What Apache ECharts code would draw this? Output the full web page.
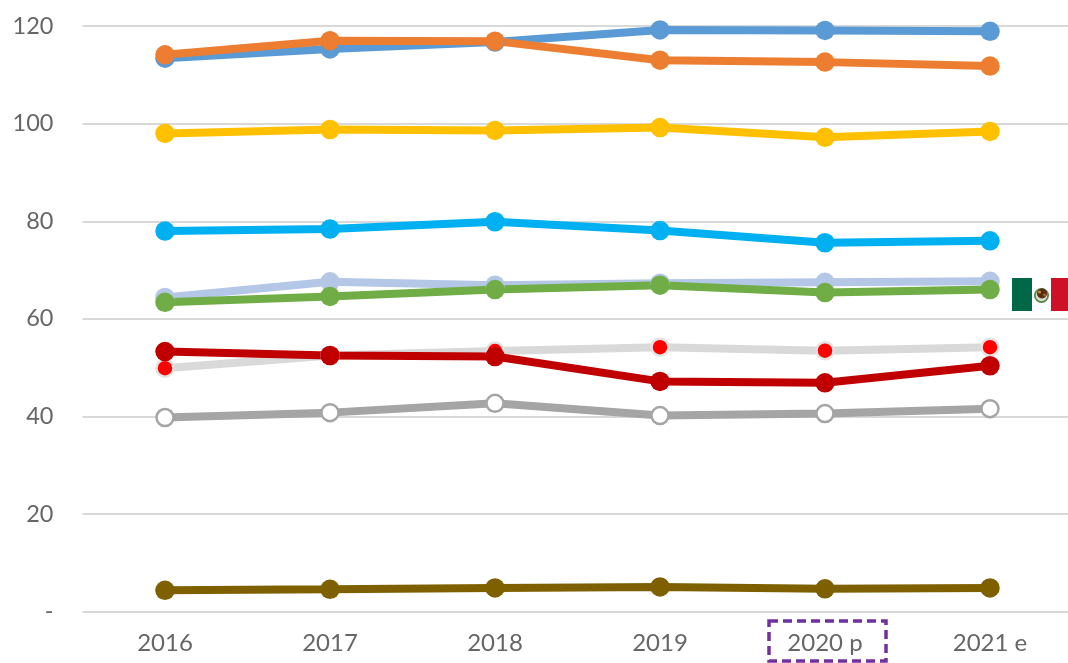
<!DOCTYPE html>
<html><head><meta charset="utf-8">
<style>html,body{margin:0;padding:0;background:#fff;overflow:hidden;width:1068px;height:663px}#c{width:1073px;height:663px}</style>
<script src="https://cdn.jsdelivr.net/npm/echarts@6/dist/echarts.min.js"></script>
</head><body><div id="c"></div>
<script>
const years = ['2016','2017','2018','2019','2020 p','2021 e'];
const steelBlue = [113.4,115.3,116.7,119.2,119.1,118.9];
const orange = [114.1,117.0,116.9,113.0,112.6,111.8];
const yellow = [98.0,98.8,98.6,99.2,97.2,98.4];
const cyan = [78.0,78.4,79.9,78.1,75.6,76.0];
const paleBlue = [64.4,67.6,66.9,67.3,67.5,67.7];
const green = [63.4,64.6,66.0,66.9,65.4,66.0];
const paleGrey = [49.9,52.5,53.4,54.2,53.5,54.2];
const darkRed = [53.3,52.5,52.3,47.2,46.9,50.4];
const grey = [39.8,40.8,42.7,40.2,40.6,41.6];
const brown = [4.4,4.6,4.9,5.1,4.7,4.9];

const font = 'Lato, "Open Sans", sans-serif';
function s(data, color, fill, border){
  return {type:'line',data,symbol:'circle',symbolSize:fill?17:19.5,showSymbol:true,clip:false,
    lineStyle:{color,width:8,cap:'butt'},
    itemStyle:{color:fill||color,borderColor:border||color,borderWidth:fill?2.5:0,opacity:1},
    emphasis:{disabled:true},animation:false};
}
const chart = echarts.init(document.getElementById('c'),null,{renderer:'canvas'});
chart.setOption({
  animation:false,backgroundColor:'#fff',
  grid:{left:82.5,right:0.5,top:26,bottom:51.2,containLabel:false},
  xAxis:{type:'category',data:years,boundaryGap:true,
    axisLine:{show:false},
    axisTick:{show:false},
    axisLabel:{color:'#666666',fontFamily:font,fontSize:24,margin:19,interval:0}},
  yAxis:{type:'value',min:0,max:120,interval:20,
    axisLine:{show:false},axisTick:{show:false},
    splitLine:{lineStyle:{color:'#d9d9d9',width:2}},
    axisLabel:{color:'#666666',fontFamily:font,fontSize:23.5,margin:29,
      formatter:v=>v===0?'-':String(v)}},
  series:[
    s(brown,'#7f6000'),
    s(grey,'#a5a5a5','#ffffff','#a5a5a5'),
    s(paleGrey,'#d9d9d9','#ff0000','#e2e2e2'),
    s(darkRed,'#c00000'),
    s(paleBlue,'#b4c7e7'),
    s(green,'#70ad47'),
    s(cyan,'#00b0f0'),
    s(yellow,'#ffc000'),
    s(steelBlue,'#5b9bd5'),
    s(orange,'#ed7d31')
  ],
  graphic:[
    {type:'rect',silent:true,z:50,shape:{x:769,y:621,width:117,height:40},
      style:{fill:'none',stroke:'#7030a0',lineWidth:3.5,lineDash:[9,5]}},
    {type:'rect',silent:true,z:50,shape:{x:1012,y:278,width:20,height:33},style:{fill:'#006847'}},
    {type:'rect',silent:true,z:50,shape:{x:1032,y:278,width:19,height:33},style:{fill:'#ffffff'}},
    {type:'rect',silent:true,z:50,shape:{x:1051,y:278,width:17,height:33},style:{fill:'#ce1126'}},
    {type:'circle',silent:true,z:51,shape:{cx:1041.5,cy:295.5,r:7.5},style:{fill:'#4f8a4a'}},
    {type:'circle',silent:true,z:52,shape:{cx:1041.5,cy:295.5,r:5.8},style:{fill:'#d9d9c8'}},
    {type:'circle',silent:true,z:53,shape:{cx:1042,cy:293.5,r:5},style:{fill:'#5a2c14'}},
    {type:'circle',silent:true,z:54,shape:{cx:1039.5,cy:292,r:1.6},style:{fill:'#c98a3a'}},
    {type:'circle',silent:true,z:54,shape:{cx:1044.5,cy:295,r:1.5},style:{fill:'#a9651f'}}
  ]
});
</script></body></html>
